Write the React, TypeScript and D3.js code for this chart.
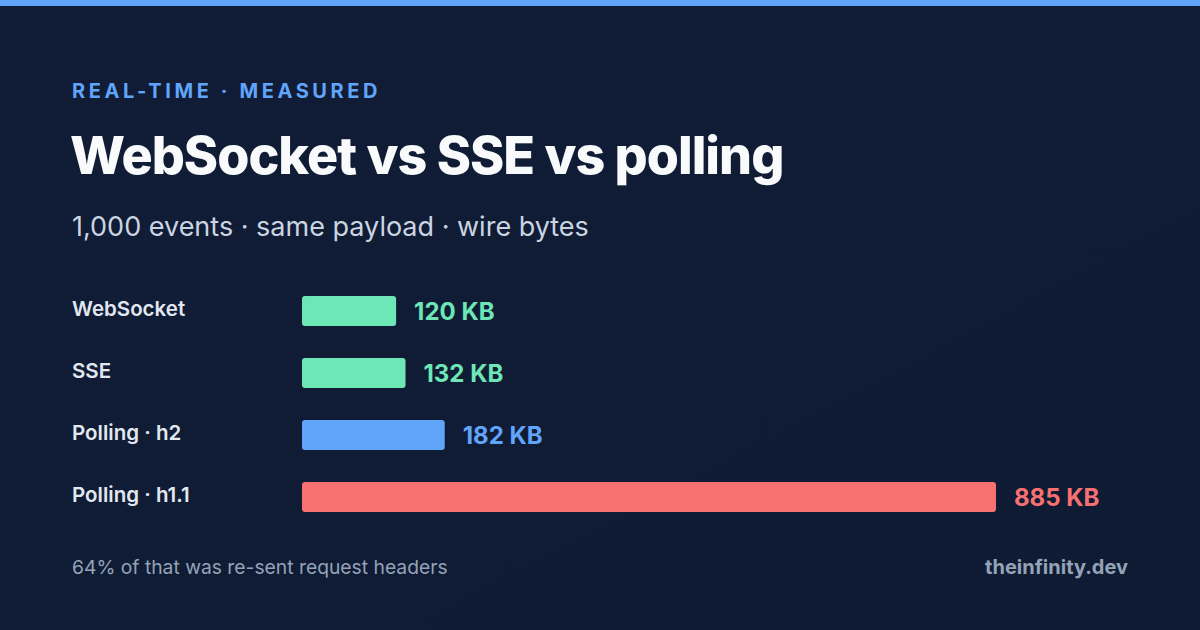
import { useEffect, useRef } from 'react'
import * as d3 from 'd3'

const categories = ['WebSocket', 'SSE', 'Polling · h2', 'Polling · h1.1']
const valuesKB = [120, 132, 182, 885]
const barColors = ['#6ee7b7', '#6ee7b7', '#60a5fa', '#f87171']

const W = 1200
const H = 630
const FONT = 'Inter, "Noto Sans", sans-serif'

export default function App() {
  const rootRef = useRef<SVGSVGElement>(null)

  useEffect(() => {
    const svg = d3.select(rootRef.current)
    svg.selectAll('*').remove()

    // background + top accent
    const defs = svg.append('defs')
    const grad = defs
      .append('linearGradient')
      .attr('id', 'bg')
      .attr('x1', '0')
      .attr('y1', '0')
      .attr('x2', '1')
      .attr('y2', '1')
    grad.append('stop').attr('offset', '0%').attr('stop-color', '#111c36')
    grad.append('stop').attr('offset', '100%').attr('stop-color', '#0f1b33')
    svg.append('rect').attr('width', W).attr('height', H).attr('fill', 'url(#bg)')
    svg.append('rect').attr('width', W).attr('height', 6).attr('fill', '#60a5fa')

    // heading
    svg
      .append('text')
      .attr('x', 72)
      .attr('y', 98)
      .attr('font-family', FONT)
      .attr('font-size', 20)
      .attr('font-weight', 700)
      .attr('letter-spacing', 3.6)
      .attr('fill', '#60a5fa')
      .text('REAL-TIME · MEASURED')

    svg
      .append('text')
      .attr('x', 70)
      .attr('y', 174)
      .attr('font-family', FONT)
      .attr('font-size', 52)
      .attr('font-weight', 800)
      .attr('letter-spacing', -1)
      .attr('fill', '#f8fafc')
      .text('WebSocket vs SSE vs polling')

    svg
      .append('text')
      .attr('x', 72)
      .attr('y', 236)
      .attr('font-family', FONT)
      .attr('font-size', 27)
      .attr('fill', '#cbd5e1')
      .text('1,000 events · same payload · wire bytes')

    // bars
    const x = d3.scaleLinear().domain([0, 885]).range([0, 694])
    const y = d3.scaleBand().domain(categories).range([296, 512]).paddingInner(32 / 62).paddingOuter(0)
    const x0 = 302

    const data = categories.map((c, i) => ({ c, v: valuesKB[i], color: barColors[i] }))
    const rows = svg.append('g').selectAll('g').data(data).join('g')

    rows
      .append('text')
      .attr('x', 72)
      .attr('y', (d) => (y(d.c) as number) + 20)
      .attr('font-family', FONT)
      .attr('font-size', 20.5)
      .attr('font-weight', 600)
      .attr('fill', '#e2e8f0')
      .text((d) => d.c)

    rows
      .append('rect')
      .attr('x', x0)
      .attr('y', (d) => y(d.c) as number)
      .attr('width', (d) => x(d.v))
      .attr('height', y.bandwidth())
      .attr('rx', 3)
      .attr('fill', (d) => d.color)

    rows
      .append('text')
      .attr('x', (d) => x0 + x(d.v) + 18)
      .attr('y', (d) => (y(d.c) as number) + y.bandwidth() / 2 + 8.5)
      .attr('font-family', FONT)
      .attr('font-size', 24)
      .attr('font-weight', 700)
      .attr('fill', (d) => d.color)
      .text((d) => `${d.v} KB`)

    // footer
    svg
      .append('text')
      .attr('x', 72)
      .attr('y', 574)
      .attr('font-family', FONT)
      .attr('font-size', 19.3)
      .attr('fill', '#94a3b8')
      .text('64% of that was re-sent request headers')

    svg
      .append('text')
      .attr('x', 1128)
      .attr('y', 574)
      .attr('text-anchor', 'end')
      .attr('font-family', FONT)
      .attr('font-size', 20)
      .attr('font-weight', 700)
      .attr('fill', '#94a3b8')
      .text('theinfinity.dev')
  }, [])

  return (
    <div style={{ position: 'absolute', left: 0, top: 0 }}>
      <svg ref={rootRef} width={W} height={H} style={{ display: 'block' }} />
    </div>
  )
}
